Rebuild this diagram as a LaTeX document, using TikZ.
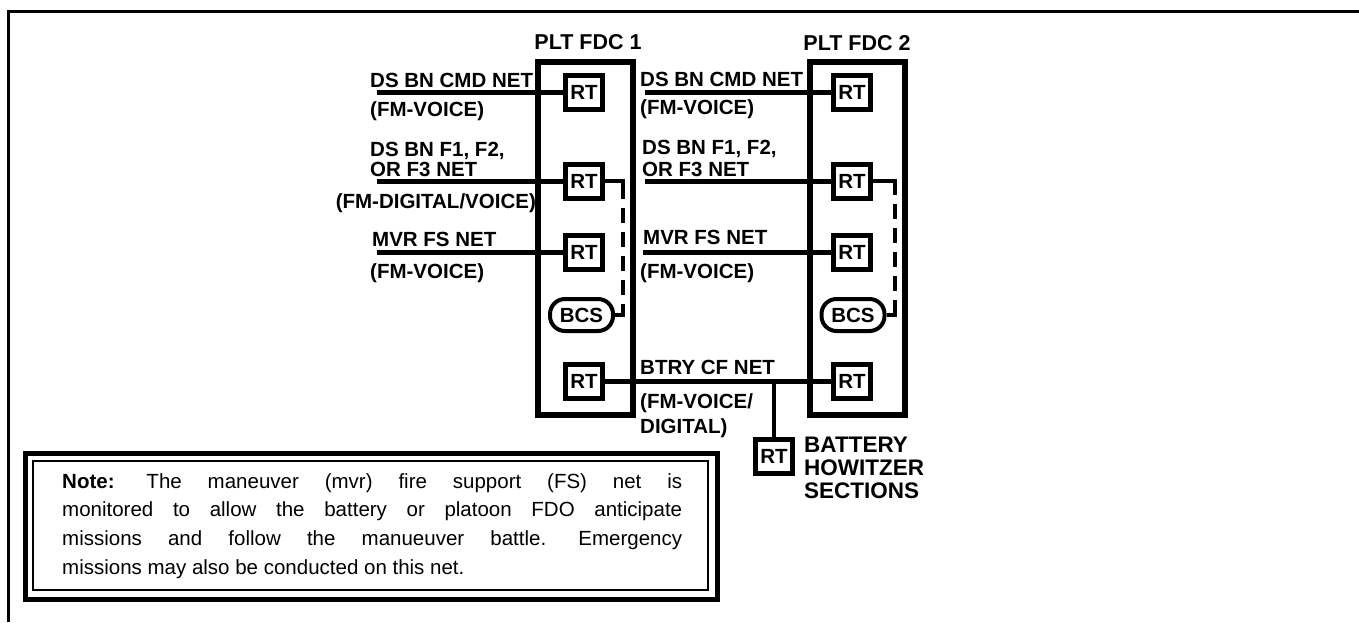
\documentclass[tikz,border=0pt]{standalone}
\usepackage{fontspec}
\setmainfont{Liberation Sans}
\usetikzlibrary{calc}
\begin{document}
\begin{tikzpicture}[x=1pt,y=-1pt,
  lbl/.style={font=\fontsize{20.5}{23}\selectfont\bfseries, inner sep=0pt, anchor=base west},
  biglbl/.style={font=\fontsize{22.5}{25}\selectfont\bfseries, inner sep=0pt, anchor=base west},
  ttl/.style={font=\fontsize{21.5}{24}\selectfont\bfseries, inner sep=0pt, anchor=base},
  rtbox/.style={draw, line width=5pt, minimum width=37pt, minimum height=34pt, inner sep=0pt, fill=white,
     font=\fontsize{20.5}{23}\selectfont\bfseries},
  bcsbox/.style={draw, line width=4pt, rounded corners=15pt, minimum width=63pt, minimum height=32pt, inner sep=0pt,
     font=\fontsize{20.5}{23}\selectfont\bfseries},
  fdcbox/.style={draw, line width=6pt, minimum width=95pt, minimum height=353pt, inner sep=0pt},
  net/.style={line width=5pt},
  dashlink/.style={line width=4pt, dash pattern=on 36pt off 9pt on 15pt off 9pt on 15pt off 9pt on 15pt off 9pt on 15pt off 9pt on 60pt off 1pt}
]
\useasboundingbox (0,0) rectangle (1359,622);
% outer frame (top and left only)
\draw[line width=3pt] (8.5,622) -- (8.5,11.5) -- (1359,11.5);

% FDC boxes and titles
\node[fdcbox] (fdc1) at (585.5,238.5) {};
\node[fdcbox] (fdc2) at (857.5,238.5) {};
\node[ttl] (t1) at (588,49) {PLT FDC 1};
\node[ttl] (t2) at (857,50) {PLT FDC 2};

% radios in FDC 1
\node[rtbox] (rt1a) at (584,92) {RT};
\node[rtbox] (rt1b) at (584,181) {RT};
\node[rtbox] (rt1c) at (584,252) {RT};
\node[bcsbox] (bcs1) at (581.5,315) {BCS};
\node[rtbox] (rt1d) at (584,381) {RT};

% radios in FDC 2
\node[rtbox] (rt2a) at (852,92) {RT};
\node[rtbox] (rt2b) at (852,181) {RT};
\node[rtbox] (rt2c) at (852,252) {RT};
\node[bcsbox] (bcs2) at (853,315) {BCS};
\node[rtbox] (rt2d) at (852,381) {RT};

% battery howitzer sections radio
\node[rtbox] (rt3) at (774,456) {RT};

% free ends of the nets
\coordinate (la) at (377,92);
\coordinate (lb) at (377,181);
\coordinate (lc) at (377,252);
\coordinate (ma) at (645,92);
\coordinate (mb) at (645,181);
\coordinate (mc) at (643,252);
\coordinate (br) at (774,381);
\coordinate (c1) at (623,250);
\coordinate (c2) at (895,250);

% nets
\draw[net] (la) -- (rt1a.west);
\draw[net] (lb) -- (rt1b.west);
\draw[net] (lc) -- (rt1c.west);
\draw[net] (ma) -- (rt2a.west);
\draw[net] (mb) -- (rt2b.west);
\draw[net] (mc) -- (rt2c.west);
\draw[net] (rt1d.east) -- (rt2d.west);
\draw[line width=4pt] (br) -- (rt3.north);

% dashed links RT -- BCS
\draw[dashlink] (rt1b.east) -| (c1) |- (bcs1.east);
\draw[dashlink] (rt2b.east) -| (c2) |- (bcs2.east);

% left labels
\node[lbl] (a1) at (370,87) {DS BN CMD NET};
\node[lbl] (a2) at (370,116) {(FM-VOICE)};
\node[lbl] (b1) at (370,156) {DS BN F1, F2,};
\node[lbl] (b2) at (370,176) {OR F3 NET};
\node[lbl, anchor=base east] (b3) at (536,208) {(FM-DIGITAL/VOICE)};
\node[lbl] (c1l) at (372,246) {MVR FS NET};
\node[lbl] (c2l) at (370,278) {(FM-VOICE)};

% middle labels
\node[lbl] (d1) at (640,86) {DS BN CMD NET};
\node[lbl] (d2) at (640,114) {(FM-VOICE)};
\node[lbl] (e1) at (642,154) {DS BN F1, F2,};
\node[lbl] (e2) at (642,176) {OR F3 NET};
\node[lbl] (f1) at (643,244) {MVR FS NET};
\node[lbl] (f2) at (640,278) {(FM-VOICE)};
\node[lbl] (g1) at (640,374) {BTRY CF NET};
\node[lbl] (g2) at (640,408) {(FM-VOICE/};
\node[lbl] (g3) at (640,433) {DIGITAL)};

% battery howitzer sections label
\node[biglbl] (h1) at (804,452) {BATTERY};
\node[biglbl] (h2) at (804,475) {HOWITZER};
\node[biglbl] (h3) at (804,498) {SECTIONS};

% note box
\node[draw, line width=5pt, minimum width=692pt, minimum height=146pt, inner sep=0pt] (noteout) at (371,526) {};
\node[draw, line width=2pt, minimum width=675pt, minimum height=129pt, inner sep=0pt] (notein) at (370.5,525.5) {};
\node[anchor=base west, inner sep=0pt, font=\fontsize{20.5}{28.7}\selectfont] (notetext) at (62,488)
 {\parbox[t]{620pt}{\frenchspacing\tolerance=10000\hbadness=10000\textbf{Note:}\hspace{6pt} The maneuver (mvr) fire support (FS) net is\linebreak
 monitored to allow the battery or platoon FDO anticipate\linebreak
 missions and follow the manueuver battle.\hspace{6pt} Emergency\linebreak
 missions may also be conducted on this net.}};
\end{tikzpicture}
\end{document}
